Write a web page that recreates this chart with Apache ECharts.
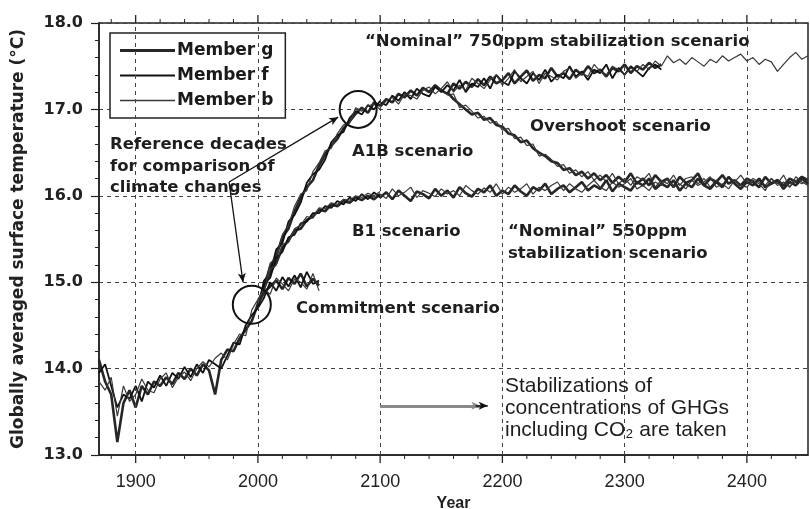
<!DOCTYPE html>
<html>
<head>
<meta charset="utf-8">
<script src="https://cdn.jsdelivr.net/npm/echarts@6/dist/echarts.min.js"></script>
<style>
  html, body { margin: 0; padding: 0; background: #fff; }
  #chart { width: 810px; height: 509px; }
</style>
</head>
<body>
<div id="chart"></div>
<script>
// values, one point every 5 years
var step = 5;
var majorYears = [1900, 2000, 2100, 2200, 2300, 2400];
var minorYears = [1880, 1920, 1940, 1960, 1980, 2020, 2040, 2060, 2080, 2120, 2140, 2160, 2180,
                  2220, 2240, 2260, 2280, 2320, 2340, 2360, 2380, 2420, 2440];

// 20th century run, 1870-2000
var histG = [14.10, 13.85, 13.70, 13.15, 13.60, 13.75, 13.55, 13.80, 13.70, 13.85, 13.80, 13.90, 13.82, 13.95,
             13.88, 14.00, 13.92, 14.05, 13.98, 13.70, 14.10, 14.22, 14.20, 14.35, 14.45, 14.55, 14.75];
var histF = [13.95, 14.05, 13.80, 13.55, 13.70, 13.65, 13.80, 13.62, 13.85, 13.78, 13.92, 13.80, 13.95, 13.88,
             14.02, 13.90, 14.05, 13.95, 14.10, 14.05, 14.00, 14.15, 14.30, 14.28, 14.50, 14.62, 14.70];
var histB = [13.85, 13.75, 13.90, 13.45, 13.80, 13.62, 13.70, 13.88, 13.75, 13.72, 13.88, 13.95, 13.78, 13.90,
             13.96, 13.86, 14.00, 14.08, 14.02, 14.12, 14.18, 14.10, 14.28, 14.40, 14.38, 14.68, 14.80];

// A1B, 2000-2100
var a1bG = [14.75, 14.95, 15.18, 15.30, 15.52, 15.62, 15.82, 15.98, 16.10, 16.18, 16.35, 16.48, 16.58, 16.66,
            16.78, 16.86, 16.95, 17.02, 16.96, 17.08, 17.04];
var a1bF = [14.70, 15.02, 15.10, 15.38, 15.45, 15.70, 15.78, 15.92, 16.15, 16.25, 16.30, 16.42, 16.62, 16.70,
            16.74, 16.90, 16.98, 16.94, 17.05, 17.00, 17.10];
var a1bB = [14.80, 14.90, 15.22, 15.28, 15.55, 15.66, 15.88, 16.02, 16.06, 16.28, 16.38, 16.52, 16.55, 16.72,
            16.82, 16.84, 17.02, 16.98, 17.04, 17.06, 17.00];

// B1, 2000-2100
var b1G = [14.75, 14.92, 15.12, 15.22, 15.40, 15.48, 15.60, 15.62, 15.72, 15.76, 15.84, 15.82, 15.90, 15.88,
           15.94, 15.92, 15.98, 15.95, 16.00, 15.96, 16.02];
var b1F = [14.70, 14.98, 15.05, 15.28, 15.35, 15.52, 15.55, 15.68, 15.70, 15.80, 15.80, 15.88, 15.86, 15.94,
           15.90, 15.98, 15.94, 16.02, 15.96, 16.04, 15.98];
var b1B = [14.80, 14.90, 15.15, 15.20, 15.44, 15.46, 15.62, 15.66, 15.76, 15.74, 15.86, 15.85, 15.92, 15.90,
           15.96, 15.95, 16.00, 15.98, 16.03, 16.00, 16.05];

// commitment, 2000-2050
var commitG = [14.75, 14.88, 14.95, 15.02, 14.92, 15.05, 14.98, 15.10, 14.95, 15.04, 14.96];
var commitF = [14.70, 14.82, 15.00, 14.90, 15.06, 14.95, 15.08, 14.94, 15.12, 14.98, 15.02];
var commitB = [14.80, 14.92, 14.86, 15.05, 14.98, 14.90, 15.04, 15.00, 14.92, 15.10, 14.90];

// 750ppm stabilization, from 2100 (g and f to 2330, b to 2450)
var s750G = [17.04, 17.12, 17.08, 17.18, 17.14, 17.22, 17.16, 17.25, 17.20, 17.28,
             17.22, 17.18, 17.30, 17.24, 17.32, 17.26, 17.35, 17.28, 17.38, 17.30,
             17.34, 17.42, 17.30, 17.38, 17.45, 17.33, 17.40, 17.36, 17.48, 17.38,
             17.42, 17.35, 17.46, 17.40, 17.50, 17.42, 17.46, 17.38, 17.48, 17.44,
             17.52, 17.42, 17.50, 17.46, 17.54, 17.48, 17.52];
var s750F = [17.08, 17.05, 17.16, 17.10, 17.20, 17.12, 17.24, 17.18, 17.15, 17.26,
             17.20, 17.28, 17.22, 17.34, 17.20, 17.30, 17.26, 17.36, 17.24, 17.40,
             17.32, 17.28, 17.44, 17.36, 17.30, 17.42, 17.34, 17.46, 17.32, 17.40,
             17.36, 17.50, 17.38, 17.44, 17.34, 17.46, 17.42, 17.52, 17.36, 17.48,
             17.40, 17.50, 17.44, 17.38, 17.48, 17.52, 17.46];
var s750B = [17.02, 17.10, 17.14, 17.06, 17.18, 17.16, 17.12, 17.22, 17.26, 17.18,
             17.24, 17.32, 17.20, 17.28, 17.22, 17.36, 17.30, 17.24, 17.34, 17.40,
             17.28, 17.36, 17.46, 17.32, 17.38, 17.44, 17.30, 17.42, 17.38, 17.34,
             17.44, 17.48, 17.36, 17.42, 17.38, 17.52, 17.44, 17.40, 17.50, 17.46,
             17.40, 17.48, 17.44, 17.52, 17.46, 17.56, 17.50, 17.62, 17.54, 17.58,
             17.52, 17.60, 17.55, 17.50, 17.58, 17.54, 17.62, 17.56, 17.60, 17.64,
             17.56, 17.60, 17.52, 17.58, 17.55, 17.44, 17.52, 17.60, 17.66, 17.58,
             17.62];

// overshoot, 2155-2450
var overG = [17.20, 17.12, 17.06, 17.00, 16.94, 16.96, 16.88, 16.90, 16.82, 16.80,
             16.72, 16.70, 16.62, 16.64, 16.55, 16.50, 16.46, 16.40, 16.38, 16.30,
             16.32, 16.24, 16.28, 16.20, 16.26, 16.18, 16.24, 16.15, 16.22, 16.16,
             16.26, 16.14, 16.20, 16.12, 16.24, 16.16, 16.20, 16.10, 16.22, 16.15,
             16.18, 16.26, 16.12, 16.20, 16.16, 16.24, 16.14, 16.18, 16.12, 16.20,
             16.16, 16.10, 16.22, 16.14, 16.18, 16.12, 16.20, 16.16, 16.22, 16.18];
var overB = [17.16, 17.18, 17.02, 17.05, 16.98, 16.90, 16.92, 16.84, 16.86, 16.76,
             16.78, 16.66, 16.68, 16.58, 16.60, 16.46, 16.48, 16.42, 16.34, 16.36,
             16.26, 16.30, 16.22, 16.28, 16.18, 16.24, 16.16, 16.26, 16.14, 16.20,
             16.12, 16.22, 16.18, 16.26, 16.10, 16.18, 16.14, 16.24, 16.12, 16.20,
             16.22, 16.14, 16.20, 16.10, 16.18, 16.12, 16.22, 16.16, 16.24, 16.14,
             16.20, 16.16, 16.12, 16.20, 16.14, 16.24, 16.10, 16.18, 16.14, 16.20];

// 550ppm stabilization, 2100-2450
var s550G = [15.98, 16.04, 15.96, 16.06, 16.00, 15.94, 16.05, 16.02, 15.97, 16.08,
             16.00, 16.06, 15.98, 16.10, 16.03, 15.99, 16.08, 16.04, 16.12, 16.00,
             16.06, 16.02, 16.12, 16.05, 16.00, 16.10, 16.06, 16.14, 16.02, 16.08,
             16.12, 16.04, 16.10, 16.16, 16.06, 16.12, 16.08, 16.18, 16.05, 16.14,
             16.10, 16.06, 16.16, 16.12, 16.20, 16.08, 16.14, 16.10, 16.18, 16.06,
             16.14, 16.10, 16.20, 16.12, 16.08, 16.16, 16.10, 16.22, 16.14, 16.08,
             16.16, 16.12, 16.20, 16.10, 16.14, 16.18, 16.08, 16.16, 16.12, 16.20,
             16.14];
var s550B = [16.02, 15.97, 16.08, 16.00, 16.04, 16.10, 15.98, 16.06, 16.03, 15.99,
             16.08, 16.02, 16.06, 16.00, 16.12, 16.06, 16.02, 16.09, 16.04, 16.14,
             16.02, 16.10, 16.04, 16.08, 16.14, 16.02, 16.10, 16.06, 16.12, 16.16,
             16.06, 16.14, 16.08, 16.04, 16.12, 16.18, 16.10, 16.06, 16.16, 16.10,
             16.14, 16.20, 16.08, 16.12, 16.06, 16.16, 16.12, 16.20, 16.10, 16.14,
             16.08, 16.18, 16.12, 16.16, 16.22, 16.10, 16.14, 16.08, 16.18, 16.12,
             16.10, 16.18, 16.14, 16.06, 16.20, 16.12, 16.16, 16.10, 16.22, 16.16,
             16.12];

var members = {
  'Member g': { color: '#262626', width: 2.6, icon: 'path://M0,0H55V3.2H0Z' },
  'Member f': { color: '#111111', width: 1.8, icon: 'path://M0,0H55V2.2H0Z' },
  'Member b': { color: '#383838', width: 1.2, icon: 'path://M0,0H55V1.4H0Z' }
};

var runs = [
  ['Member g', 1870, histG], ['Member f', 1870, histF], ['Member b', 1870, histB],
  ['Member g', 2000, a1bG], ['Member f', 2000, a1bF], ['Member b', 2000, a1bB],
  ['Member g', 2000, b1G], ['Member f', 2000, b1F], ['Member b', 2000, b1B],
  ['Member g', 2000, commitG], ['Member f', 2000, commitF], ['Member b', 2000, commitB],
  ['Member g', 2100, s750G], ['Member f', 2100, s750F], ['Member b', 2100, s750B],
  ['Member g', 2155, overG], ['Member b', 2155, overB],
  ['Member g', 2100, s550G], ['Member b', 2100, s550B]
];

function toPoints(start, vals) {
  return vals.map(function (v, i) { return [start + i * step, v]; });
}

var dashStyle = { color: '#444', width: 1, type: [4, 4] };
var fontMain = 'DejaVu Sans';

// x ticks below the bottom edge and above the top edge of the frame
function tickSeries(years, len, lw) {
  return {
    type: 'custom', name: 'ticks', silent: true, clip: false, z: 4,
    data: years.map(function (y) { return [y, 13]; }),
    encode: { x: 0, y: 1 },
    renderItem: function (params, api) {
      var b = api.coord([api.value(0), 13]);
      var t = api.coord([api.value(0), 18]);
      var st = { stroke: '#222', lineWidth: lw };
      return {
        type: 'group', children: [
          { type: 'line', shape: { x1: b[0], y1: b[1], x2: b[0], y2: b[1] + len }, style: st },
          { type: 'line', shape: { x1: t[0], y1: t[1], x2: t[0], y2: t[1] - len }, style: st }
        ]
      };
    }
  };
}

var series = [{
  // dashed grid, vertical lines
  type: 'line', name: 'grid', data: [], z: 1, silent: true,
  markLine: {
    silent: true, symbol: 'none', label: { show: false },
    lineStyle: dashStyle,
    data: majorYears.map(function (y) { return { xAxis: y }; })
  }
}, tickSeries(majorYears, 8, 1.3), tickSeries(minorYears, 4, 1)];

runs.forEach(function (r) {
  var m = members[r[0]];
  series.push({
    name: r[0], type: 'line', symbol: 'none', showSymbol: false, z: 3,
    lineStyle: { color: m.color, width: m.width },
    itemStyle: { color: m.color },
    data: toPoints(r[1], r[2])
  });
});

// reference-decade circles and arrows
series.push({
  type: 'line', name: 'marks', data: [], z: 5, silent: true,
  markPoint: {
    silent: true, label: { show: false },
    symbol: 'circle',
    itemStyle: { color: 'rgba(0,0,0,0)', borderColor: '#111', borderWidth: 2 },
    data: [
      { coord: [1995, 14.74], symbolSize: 38 },
      { coord: [2082, 17.0], symbolSize: 37 }
    ]
  },
  markLine: {
    silent: true, label: { show: false }, symbol: ['none', 'arrow'], symbolSize: [6, 9],
    lineStyle: { color: '#111', width: 1.3, type: 'solid' },
    data: [
      [{ coord: [1976.4, 16.16] }, { coord: [1987.8, 15.0] }],
      [{ coord: [1976.4, 16.16] }, { coord: [2065.6, 16.91] }],
      [{ coord: [2100, 13.57], symbol: 'none', lineStyle: { color: '#8a8a8a', width: 3 } },
       { coord: [2182, 13.57] }],
      [{ coord: [2178, 13.57], lineStyle: { color: '#111', width: 1.5 } },
       { coord: [2188, 13.57] }]
    ]
  }
});

var annFont = 'bold 16.5px "DejaVu Sans"';
var txt = function (x, y, text, extra) {
  var style = Object.assign({
    text: text, x: 0, y: 0, fill: '#1e1e1e',
    font: annFont, lineHeight: 22, verticalAlign: 'middle'
  }, extra || {});
  return { type: 'text', x: x, y: y, z: 10, silent: true, style: style };
};

var myChart = echarts.init(document.getElementById('chart'), null, { renderer: 'canvas' });
var option = {
  backgroundColor: '#fff',
  animation: false,
  grid: {
    left: 99, right: 2, top: 23, bottom: 54,
    outerBoundsMode: 'none', containLabel: false,
    show: true, borderColor: '#222', borderWidth: 1.5, backgroundColor: 'transparent'
  },
  legend: {
    data: ['Member g', 'Member f', 'Member b'].map(function (n) {
      return { name: n, icon: members[n].icon };
    }),
    orient: 'vertical', left: 110, top: 33,
    backgroundColor: '#fff',
    borderColor: '#222', borderWidth: 1.5,
    padding: [9, 12, 9, 10], itemGap: 8,
    itemWidth: 55, itemHeight: 14,
    textStyle: { fontFamily: fontMain, fontWeight: 'bold', fontSize: 17, color: '#1a1a1a', padding: [0, 0, 0, -3] }
  },
  xAxis: {
    type: 'value', min: 1870, max: 2450,
    name: 'Year', nameLocation: 'middle', nameGap: 40,
    nameTextStyle: { fontFamily: 'Liberation Sans', fontSize: 16, fontWeight: 'bold', color: '#222' },
    axisLine: { show: true, lineStyle: { color: '#222', width: 1.5 } },
    axisTick: { show: false },
    axisLabel: {
      customValues: majorYears, margin: 18,
      fontFamily: 'Liberation Sans', fontSize: 18, color: '#222',
      formatter: function (v) { return String(v); }
    },
    splitLine: { show: false }
  },
  yAxis: {
    type: 'value', min: 13, max: 18, interval: 1,
    name: 'Globally averaged surface temperature (°C)',
    nameLocation: 'middle', nameGap: 72,
    nameTextStyle: { fontFamily: fontMain, fontSize: 17, fontWeight: 'bold', color: '#222' },
    axisLine: { show: true, lineStyle: { color: '#222', width: 1.5 } },
    axisTick: { show: true, length: 8, lineStyle: { color: '#222', width: 1.2 } },
    minorTick: { show: true, splitNumber: 5, length: 4, lineStyle: { color: '#222', width: 1 } },
    axisLabel: {
      margin: 16, fontFamily: fontMain, fontSize: 16, fontWeight: 'bold', color: '#222',
      formatter: function (v) { return v.toFixed(1); }
    },
    splitLine: { show: true, lineStyle: dashStyle }
  },
  graphic: [
    txt(365, 42, '\u201cNominal\u201d 750ppm stabilization scenario'),
    txt(530, 127, 'Overshoot scenario'),
    txt(352, 152, 'A1B scenario'),
    txt(110, 145, 'Reference decades\nfor comparison of\nclimate changes', { verticalAlign: 'top', y: -11, lineHeight: 21.5 }),
    txt(352, 232, 'B1 scenario'),
    txt(508, 232, '\u201cNominal\u201d 550ppm\nstabilization scenario', { verticalAlign: 'top', y: -11, lineHeight: 22 }),
    txt(296, 309, 'Commitment scenario'),
    txt(505, 386, 'Stabilizations of\nconcentrations of GHGs\nincluding CO\u2082 are taken', { font: '21px "Liberation Sans"', verticalAlign: 'top', y: -11, lineHeight: 22 })
  ],
  series: series
};
myChart.setOption(option);
</script>
</body>
</html>
